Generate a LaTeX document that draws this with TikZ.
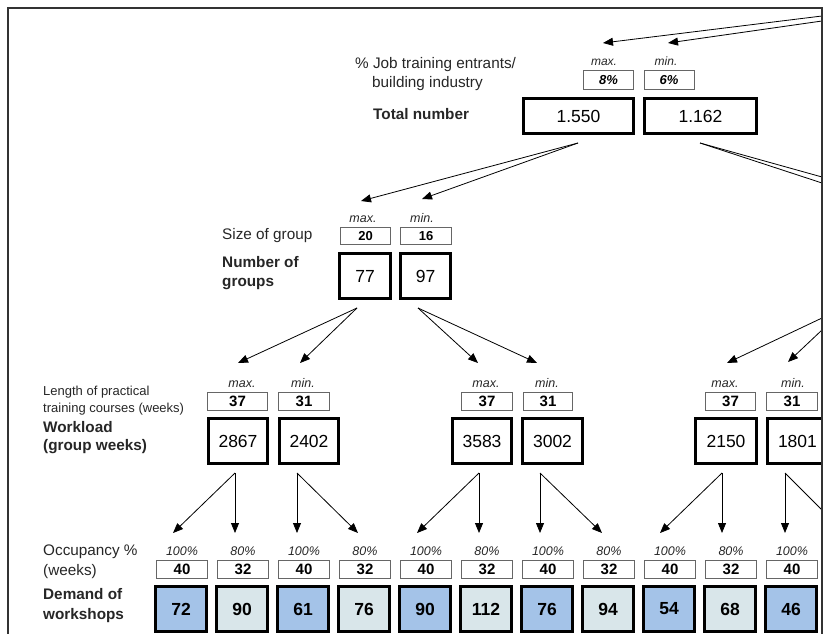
\documentclass[tikz,border=0pt]{standalone}
\usepackage{fontspec}
\setmainfont{Liberation Sans}
\usetikzlibrary{arrows.meta}
\definecolor{wsblue}{HTML}{A4C3E8}
\definecolor{wsgrey}{HTML}{D9E6EA}
\begin{document}
\begin{tikzpicture}[x=1pt,y=-1pt,
  frameline/.style={draw=black!80, line width=1.4pt},
  conn/.style={draw=black, line width=0.8pt},
  arr/.style={conn, -{Triangle[length=10pt,width=8pt]}},
  lbl/.style={inner sep=0pt, anchor=mid west, font=\fontsize{15.3}{18}\selectfont, text=black!85},
  lblb/.style={lbl, font=\fontsize{15.3}{18}\selectfont\bfseries},
  lbls/.style={lbl, font=\fontsize{13}{15}\selectfont},
  mm/.style={inner sep=0pt, anchor=mid, font=\fontsize{12.5}{14}\selectfont\itshape, text=black!85},
  mmt/.style={mm, font=\fontsize{12}{13}\selectfont\itshape},
  sbox/.style={draw=black!60, line width=0.8pt, inner sep=0pt, minimum height=18pt, font=\fontsize{15}{16}\selectfont\bfseries},
  sboxt/.style={sbox, minimum height=17pt, font=\fontsize{13}{14}\selectfont\bfseries},
  bbox/.style={draw=black, line width=2.8pt, inner sep=0pt, font=\fontsize{17.5}{18}\selectfont},
  dbox/.style={bbox, minimum width=51pt, minimum height=45pt, font=\fontsize{17.5}{18}\selectfont\bfseries}
]
\useasboundingbox (0,0) rectangle (824,634);
\begin{scope}
\clip (0,0) rectangle (822,634);
% ---------- level 1
\coordinate (t1) at (822,16); \coordinate (t2) at (822,21);
\coordinate (a1) at (603,43); \coordinate (a2) at (668,43);
\draw[arr] (t1) -- (a1); \draw[arr] (t2) -- (a2);
\node[lbl] (l1a) at (355,66) {\% Job training entrants/};
\node[lbl] (l1b) at (372,85) {building industry};
\node[lblb] (l1c) at (373,117) {Total number};
\node[mmt] (m1) at (604,63) {max.};
\node[mmt] (n1) at (666,63) {min.};
\node[sboxt, minimum width=50pt, minimum height=19pt, font=\fontsize{13}{14}\selectfont\bfseries\itshape] (s1a) at (608.5,80) {8\%};
\node[sboxt, minimum width=50pt, minimum height=19pt, font=\fontsize{13}{14}\selectfont\bfseries\itshape] (s1b) at (669,80) {6\%};
\node[bbox, minimum width=110pt, minimum height=35pt] (b1a) at (578.5,116) {1.550};
\node[bbox, minimum width=112pt, minimum height=35pt] (b1b) at (700.5,116) {1.162};
% ---------- level 2
\coordinate (c1a) at (578,143); \coordinate (a3) at (361,201); \coordinate (a4) at (422,199);
\draw[arr] (c1a) -- (a3); \draw[arr] (c1a) -- (a4);
\coordinate (c1b) at (700,143); \coordinate (e1) at (822,177); \coordinate (e2) at (822,183);
\draw[conn] (c1b) -- (e1); \draw[conn] (c1b) -- (e2);
\node[lbl] (l2a) at (222,237) {Size of group};
\node[lblb] (l2b) at (222,265) {Number of};
\node[lblb] (l2c) at (222,284) {groups};
\node[mm] (m2) at (363,220) {max.};
\node[mm] (n2) at (422,220) {min.};
\node[sboxt, minimum width=50pt] (s2a) at (365.5,236) {20};
\node[sboxt, minimum width=51pt] (s2b) at (426,236) {16};
\node[bbox, minimum width=51pt, minimum height=45pt] (b2a) at (365,276) {77};
\node[bbox, minimum width=50pt, minimum height=45pt] (b2b) at (425.5,276) {97};
% ---------- level 3
\coordinate (c2a) at (357,308); \coordinate (a5) at (238,363); \coordinate (a6) at (300,363);
\coordinate (c2b) at (418,308); \coordinate (a7) at (478,363); \coordinate (a8) at (537,363);
\coordinate (e3) at (822,318); \coordinate (a9) at (727,363);
\coordinate (e4) at (822,330); \coordinate (a10) at (788,362);
\draw[arr] (c2a) -- (a5); \draw[arr] (c2a) -- (a6);
\draw[arr] (c2b) -- (a7); \draw[arr] (c2b) -- (a8);
\draw[arr] (e3) -- (a9); \draw[arr] (e4) -- (a10);
\node[lbls] (l3a) at (43,393) {Length of practical};
\node[lbls] (l3b) at (43,410) {training courses (weeks)};
\node[lblb] (l3c) at (43,430) {Workload};
\node[lblb] (l3d) at (43,448) {(group weeks)};
\node[mm] (m3a) at (242,385) {max.}; \node[mm] (n3a) at (303,385) {min.};
\node[mm] (m3b) at (486,385) {max.}; \node[mm] (n3b) at (547,385) {min.};
\node[mm] (m3c) at (725,385) {max.}; \node[mm] (n3c) at (793,385) {min.};
\node[sbox, minimum width=60pt] (s3a) at (237.5,401.5) {37};
\node[sbox, minimum width=51pt] (s3b) at (304,401.5) {31};
\node[sbox, minimum width=51pt] (s3c) at (487,401.5) {37};
\node[sbox, minimum width=49pt] (s3d) at (548,401.5) {31};
\node[sbox, minimum width=50pt] (s3e) at (730.5,401.5) {37};
\node[sbox, minimum width=51pt] (s3f) at (792,401.5) {31};
\node[bbox, minimum width=59pt, minimum height=45pt] (b3a) at (238,441) {2867};
\node[bbox, minimum width=59pt, minimum height=45pt] (b3b) at (309,441) {2402};
\node[bbox, minimum width=59pt, minimum height=45pt] (b3c) at (482,441) {3583};
\node[bbox, minimum width=60pt, minimum height=45pt] (b3d) at (552.5,441) {3002};
\node[bbox, minimum width=61pt, minimum height=45pt] (b3e) at (726,441) {2150};
\node[bbox, minimum width=65pt, minimum height=45pt, text width=60pt, align=left] (b3f) at (800,441) {\hspace*{8pt}1801};
% ---------- level 4 connectors
\coordinate (c3a) at (235,473); \coordinate (c3b) at (297,473);
\coordinate (c3c) at (479,473); \coordinate (c3d) at (540,473);
\coordinate (c3e) at (722,473); \coordinate (c3f) at (785,473);
\coordinate (e5) at (822,510);
\foreach \s/\x in {c3a/173, c3a/235, c3b/297, c3b/358, c3c/417, c3c/479, c3d/540, c3d/602, c3e/660, c3e/722, c3f/785}{
  \coordinate (tip-\s-\x) at (\x,533);
  \draw[arr] (\s) -- (tip-\s-\x);
}
\draw[conn] (c3f) -- (e5);
% ---------- level 5
\node[lbl] (l5a) at (43,553) {Occupancy \%};
\node[lbl] (l5b) at (43,573) {(weeks)};
\node[lblb] (l5c) at (43,597) {Demand of};
\node[lblb] (l5d) at (43,617) {workshops};
\foreach \i/\pct/\wk/\val/\col in {0/100/40/72/wsblue, 1/80/32/90/wsgrey, 2/100/40/61/wsblue, 3/80/32/76/wsgrey, 4/100/40/90/wsblue, 5/80/32/112/wsgrey, 6/100/40/76/wsblue, 7/80/32/94/wsgrey, 8/100/40/54/wsblue, 9/80/32/68/wsgrey, 10/100/40/46/wsblue}{
  \node[mm] (p\i) at ({182+61*\i},553) {\pct\%};
  \node[sbox, minimum width=51pt] (s\i) at ({182+61*\i},569.5) {\wk};
  \node[dbox, fill=\col] (d\i) at ({181+61*\i},609) {\val};
}
\end{scope}
\draw[frameline] (8,634) -- (8,8) -- (822,8) -- (822,634);
\end{tikzpicture}
\end{document}
